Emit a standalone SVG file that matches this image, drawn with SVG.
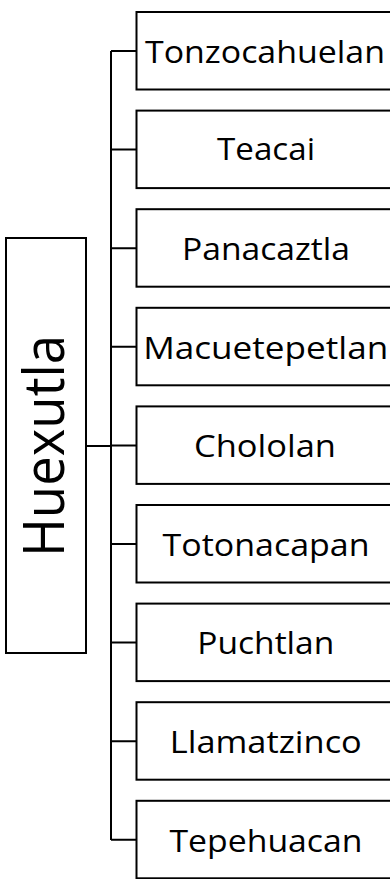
<svg xmlns="http://www.w3.org/2000/svg" width="390" height="879" viewBox="0 0 390 879">
<style>
.box{fill:#fff;stroke:#000;stroke-width:2}
.lbl{font-family:"Open Sans","Liberation Sans",sans-serif;font-size:31px;fill:#000;text-anchor:middle}
.root{font-family:"Open Sans","Liberation Sans",sans-serif;font-size:57px;fill:#000;text-anchor:middle}
.con{fill:none;stroke:#000;stroke-width:2}
</style>
<rect width="390" height="879" fill="#fff"/>
<g id="connectors">
<path class="con" d="M86,446H111M111,51V840M111,51H136.5M111,149.6H136.5M111,248.2H136.5M111,346.8H136.5M111,445.4H136.5M111,544H136.5M111,642.6H136.5M111,741.2H136.5M111,839.8H136.5"/>
</g>
<g id="huexutla">
<rect class="box" x="6" y="238" width="80" height="415"/>
<text class="root" transform="translate(64.3,446) rotate(-90)" textLength="222" lengthAdjust="spacingAndGlyphs">Huexutla</text>
</g>
<g id="tonzocahuelan">
<rect class="box" x="136.5" y="12" width="259" height="77.5"/>
<text class="lbl" x="265" y="63" textLength="240" lengthAdjust="spacingAndGlyphs">Tonzocahuelan</text>
</g>
<g id="teacai">
<rect class="box" x="136.5" y="110.6" width="259" height="77.5"/>
<text class="lbl" x="266" y="160" textLength="98" lengthAdjust="spacingAndGlyphs">Teacai</text>
</g>
<g id="panacaztla">
<rect class="box" x="136.5" y="209.2" width="259" height="77.5"/>
<text class="lbl" x="266" y="260" textLength="168" lengthAdjust="spacingAndGlyphs">Panacaztla</text>
</g>
<g id="macuetepetlan">
<rect class="box" x="136.5" y="307.8" width="259" height="77.5"/>
<text class="lbl" x="265.7" y="358.6" textLength="245" lengthAdjust="spacingAndGlyphs">Macuetepetlan</text>
</g>
<g id="chololan">
<rect class="box" x="136.5" y="406.4" width="259" height="77.5"/>
<text class="lbl" x="265" y="457.2" textLength="142" lengthAdjust="spacingAndGlyphs">Chololan</text>
</g>
<g id="totonacapan">
<rect class="box" x="136.5" y="505" width="259" height="77.5"/>
<text class="lbl" x="266" y="555.8" textLength="207" lengthAdjust="spacingAndGlyphs">Totonacapan</text>
</g>
<g id="puchtlan">
<rect class="box" x="136.5" y="603.6" width="259" height="77.5"/>
<text class="lbl" x="265.8" y="654.4" textLength="137" lengthAdjust="spacingAndGlyphs">Puchtlan</text>
</g>
<g id="llamatzinco">
<rect class="box" x="136.5" y="702.2" width="259" height="77.5"/>
<text class="lbl" x="265.8" y="753" textLength="192" lengthAdjust="spacingAndGlyphs">Llamatzinco</text>
</g>
<g id="tepehuacan">
<rect class="box" x="136.5" y="800.8" width="259" height="77.5"/>
<text class="lbl" x="266" y="851.6" textLength="193" lengthAdjust="spacingAndGlyphs">Tepehuacan</text>
</g>
</svg>
